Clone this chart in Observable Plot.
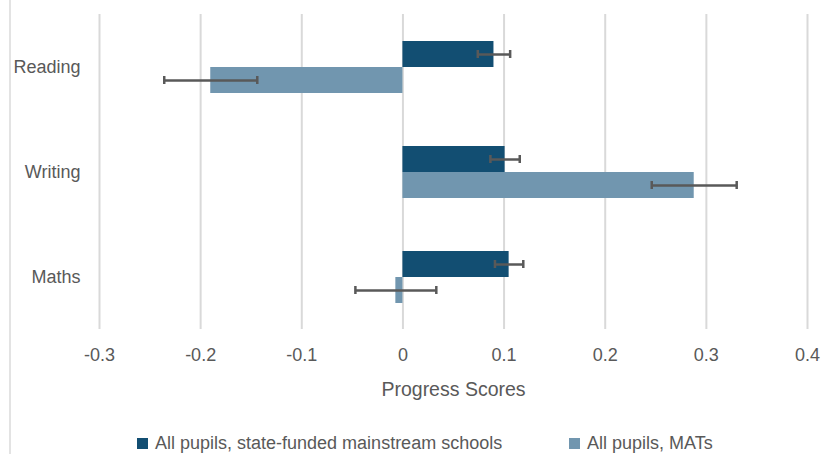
<!DOCTYPE html>
<html>
<head>
<meta charset="utf-8">
<script src="https://cdn.jsdelivr.net/npm/d3@7"></script>
<script src="https://cdn.jsdelivr.net/npm/@observablehq/plot@0.6"></script>
<style>
  html, body { margin: 0; padding: 0; background: #fff; }
  #wrap { position: relative; width: 822px; height: 454px; overflow: hidden; font-family: "Liberation Sans", Arial, sans-serif; }
  #border { position: absolute; left: 9px; top: 0; width: 2px; height: 454px; background: #e3e3e3; }
  #chart { position: absolute; left: 0; top: 0; }
  #legend { position: absolute; top: 433px; left: 0; width: 822px; height: 21px; font-size: 18px; line-height: 21px; color: #595959; }
  .item { position: absolute; top: 0; height: 21px; display: flex; align-items: center; white-space: nowrap; }
  .sw { width: 11px; height: 11px; margin-right: 7px; display: inline-block; }
</style>
</head>
<body>
<div id="wrap">
  <div id="border"></div>
  <div id="chart"></div>
  <div id="legend"></div>
</div>
<script>
const categories = ["Reading", "Writing", "Maths"];
const seriesNames = ["All pupils, state-funded mainstream schools", "All pupils, MATs"];
const seriesColors = ["#124e72", "#7196af"];
const stateValues = [0.09, 0.101, 0.105];
const stateErrors = [0.016, 0.0145, 0.014];
const matValues = [-0.19, 0.288, -0.007];
const matErrors = [0.046, 0.042, 0.04];
const xTicks = [-0.3, -0.2, -0.1, 0, 0.1, 0.2, 0.3, 0.4];
const xLabel = "Progress Scores";

const data = [];
categories.forEach((c, i) => {
  data.push({cat: c, series: seriesNames[0], value: stateValues[i], err: stateErrors[i]});
  data.push({cat: c, series: seriesNames[1], value: matValues[i], err: matErrors[i]});
});
data.forEach(d => { d.lo = d.value - d.err; d.hi = d.value + d.err; });

const plot = Plot.plot({
  width: 822,
  height: 410,
  marginTop: 13,
  marginBottom: 81,
  marginLeft: 99,
  marginRight: 15,
  style: {fontFamily: "'Liberation Sans', Arial, sans-serif", fontSize: "18px", color: "#595959", background: "transparent"},
  x: {domain: [-0.3, 0.4], ticks: xTicks, tickSize: 0, tickPadding: 19,
      tickFormat: d => d === 0 ? "0" : d.toFixed(1),
      label: xLabel, labelAnchor: "center", labelArrow: "none", labelOffset: 66},
  y: {domain: seriesNames, axis: null, paddingInner: 0, paddingOuter: 0.95},
  fy: {domain: categories, padding: 0, tickSize: 0, tickPadding: 19, label: null},
  color: {domain: seriesNames, range: seriesColors},
  marks: [
    Plot.gridX(xTicks, {stroke: "#d9d9d9", strokeWidth: 2, strokeOpacity: 1}),
    Plot.barX(data, {x1: 0, x2: "value", y: "series", fy: "cat", fill: "series"}),
    Plot.ruleY(data, {y: "series", fy: "cat", x1: "lo", x2: "hi", stroke: "#595959", strokeWidth: 2.5}),
    Plot.tickX(data, {x: "lo", y: "series", fy: "cat", stroke: "#595959", strokeWidth: 2.5, insetTop: 9, insetBottom: 9}),
    Plot.tickX(data, {x: "hi", y: "series", fy: "cat", stroke: "#595959", strokeWidth: 2.5, insetTop: 9, insetBottom: 9})
  ]
});
d3.select(plot).selectAll('[aria-label="x-axis label"]').attr("font-size", 19.5);
document.getElementById("chart").appendChild(plot);

const legendPos = [137, 569];
const legend = document.getElementById("legend");
seriesNames.forEach((s, i) => {
  const item = document.createElement("div");
  item.className = "item";
  item.style.left = legendPos[i] + "px";
  const sw = document.createElement("span");
  sw.className = "sw";
  sw.style.background = seriesColors[i];
  const t = document.createElement("span");
  t.textContent = s;
  item.appendChild(sw);
  item.appendChild(t);
  legend.appendChild(item);
});
</script>
</body>
</html>
